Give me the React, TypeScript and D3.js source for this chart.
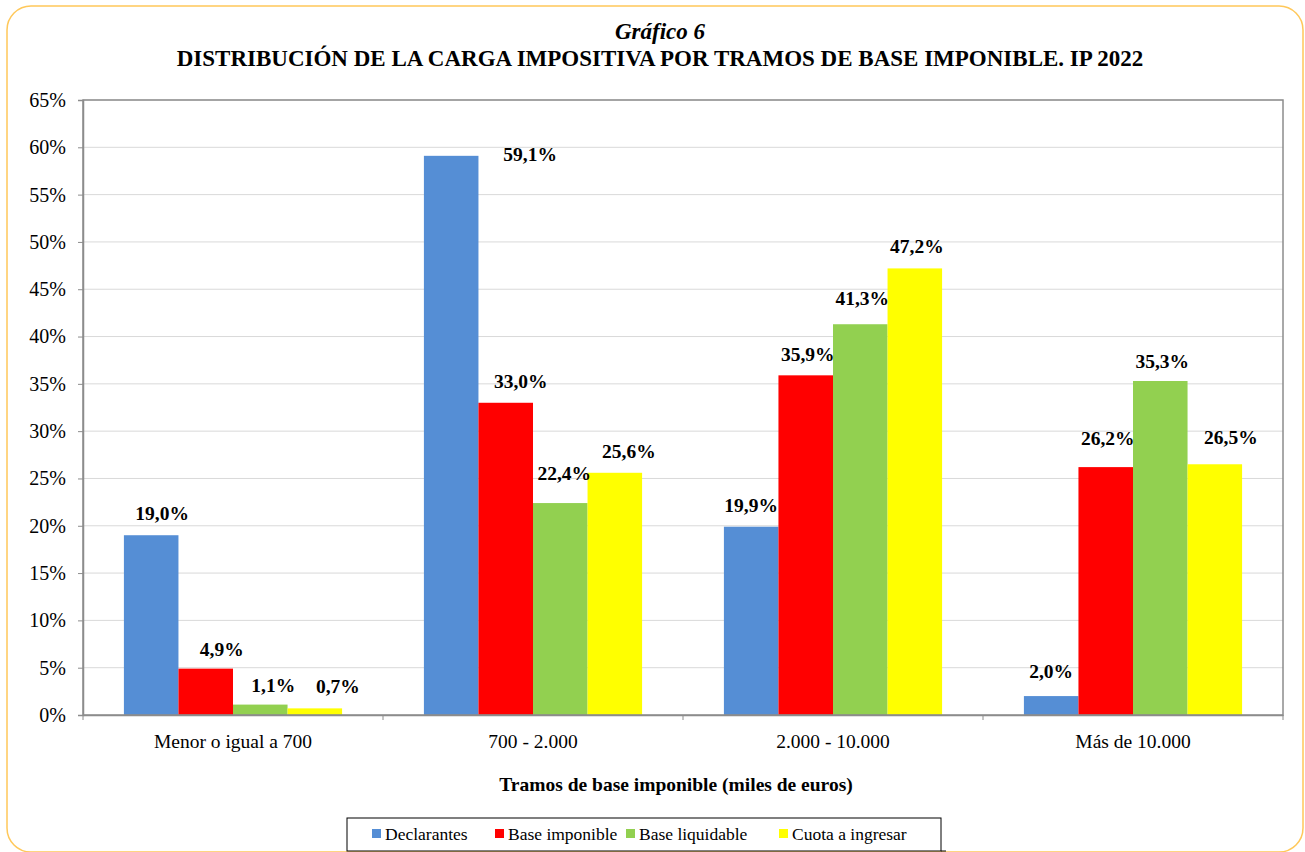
import React, { useEffect, useRef } from "react";
import * as d3 from "d3";

const categories = ["Menor o igual a 700", "700 - 2.000", "2.000 - 10.000", "Más de 10.000"];
const seriesNames = ["Declarantes", "Base imponible", "Base liquidable", "Cuota a ingresar"];
const declarantes = [19.0, 59.1, 19.9, 2.0];
const baseImponible = [4.9, 33.0, 35.9, 26.2];
const baseLiquidable = [1.1, 22.4, 41.3, 35.3];
const cuotaIngresar = [0.7, 25.6, 47.2, 26.5];
const colors = ["#558ED5", "#FF0000", "#92D050", "#FFFF00"];
const yTicks = [0, 5, 10, 15, 20, 25, 30, 35, 40, 45, 50, 55, 60, 65];

// manual label nudges [dx, dy] per series / category (Excel placed some labels oddly)
const labelNudge: [number, number][][] = [
    [[11, 0], [79, 20], [0, 0], [0, -3]],
    [[16, 2], [15, 0], [2, 1], [2, -7]],
    [[13, 2], [4, -8], [2, -4], [2, 2]],
    [[23, 0], [14, 0], [2, 0], [16, -5]],
];

const W = 1305;
const H = 852;
const margin = { left: 83, right: 20, top: 100, bottom: 137 };
const FONT = "'Liberation Serif', 'Times New Roman', serif";

const App = () => {
    const ref = useRef<SVGSVGElement>(null);

    useEffect(() => {
        if (!ref.current) return;
        const svg = d3.select(ref.current);
        svg.selectAll("*").remove();

        const series = [declarantes, baseImponible, baseLiquidable, cuotaIngresar];
        const x0 = margin.left;
        const x1 = W - margin.right - 2;
        const yBottom = H - margin.bottom;

        // outer rounded frame
        svg.append("rect")
            .attr("x", 7).attr("y", 6)
            .attr("width", 1296).attr("height", 846)
            .attr("rx", 24)
            .attr("fill", "white")
            .attr("stroke", "#FFC85A")
            .attr("stroke-width", 1.5);

        svg.append("text")
            .attr("x", 660).attr("y", 39)
            .attr("text-anchor", "middle")
            .attr("font-family", FONT)
            .attr("font-size", 23)
            .attr("font-weight", "bold")
            .attr("font-style", "italic")
            .text("Gráfico 6");

        svg.append("text")
            .attr("x", 660).attr("y", 66)
            .attr("text-anchor", "middle")
            .attr("font-family", FONT)
            .attr("font-size", 23)
            .attr("font-weight", "bold")
            .text("DISTRIBUCIÓN DE LA CARGA IMPOSITIVA POR TRAMOS DE BASE IMPONIBLE. IP 2022");

        const xScale = d3.scaleBand<string>()
            .domain(categories)
            .range([x0, x1])
            .paddingInner(0)
            .paddingOuter(0);

        const xSub = d3.scaleBand<string>()
            .domain(seriesNames)
            .range([0, xScale.bandwidth()])
            .paddingOuter(0.75)
            .paddingInner(0);

        const yScale = d3.scaleLinear()
            .domain([0, 65])
            .range([yBottom, margin.top]);

        // gridlines
        svg.append("g")
            .selectAll("line")
            .data(yTicks.slice(1))
            .enter()
            .append("line")
            .attr("x1", x0).attr("x2", x1)
            .attr("y1", (d) => yScale(d)).attr("y2", (d) => yScale(d))
            .attr("stroke", "#D9D9D9")
            .attr("stroke-width", 1);

        // bars
        series.forEach((vals, si) => {
            svg.append("g")
                .selectAll("rect")
                .data(vals)
                .enter()
                .append("rect")
                .attr("x", (_, i) => xScale(categories[i])! + xSub(seriesNames[si])!)
                .attr("y", (d) => yScale(d))
                .attr("width", xSub.bandwidth())
                .attr("height", (d) => yBottom - yScale(d))
                .attr("fill", colors[si]);
        });

        // plot frame (right/top)
        svg.append("rect")
            .attr("x", x0).attr("y", margin.top)
            .attr("width", x1 - x0).attr("height", yBottom - margin.top)
            .attr("fill", "none")
            .attr("stroke", "#8C8C8C")
            .attr("stroke-width", 1.5);

        // y axis
        const yAxis = d3.axisLeft(yScale)
            .tickValues(yTicks)
            .tickSize(5)
            .tickPadding(12)
            .tickFormat((d) => `${d}%`);
        const gy = svg.append("g")
            .attr("transform", `translate(${x0},0)`)
            .call(yAxis);
        gy.select(".domain").attr("stroke", "#8C8C8C").attr("stroke-width", 1.5);
        gy.selectAll(".tick line").attr("stroke", "#8C8C8C");
        gy.selectAll("text")
            .attr("font-family", FONT)
            .attr("font-size", 20)
            .attr("fill", "#000");

        // x axis
        const xAxis = d3.axisBottom(xScale).tickSize(0).tickPadding(19);
        const gx = svg.append("g")
            .attr("transform", `translate(0,${yBottom})`)
            .call(xAxis);
        gx.select(".domain").attr("stroke", "#8C8C8C").attr("stroke-width", 1.5);
        gx.selectAll("text")
            .attr("font-family", FONT)
            .attr("font-size", 19.5)
            .attr("fill", "#000");
        // boundary ticks between categories
        gx.selectAll("line.sep")
            .data(d3.range(categories.length + 1))
            .enter()
            .append("line")
            .attr("class", "sep")
            .attr("x1", (i) => x0 + i * xScale.bandwidth())
            .attr("x2", (i) => x0 + i * xScale.bandwidth())
            .attr("y1", 0).attr("y2", 5)
            .attr("stroke", "#8C8C8C");

        // data labels
        series.forEach((vals, si) => {
            svg.append("g")
                .selectAll("text")
                .data(vals)
                .enter()
                .append("text")
                .attr("x", (_, i) => xScale(categories[i])! + xSub(seriesNames[si])! + xSub.bandwidth() / 2 + labelNudge[si][i][0])
                .attr("y", (d, i) => yScale(d) - 15 + labelNudge[si][i][1])
                .attr("text-anchor", "middle")
                .attr("font-family", FONT)
                .attr("font-size", 19.5)
                .attr("font-weight", "bold")
                .text((d) => `${d.toFixed(1).replace(".", ",")}%`);
        });

        // axis title
        svg.append("text")
            .attr("x", 676).attr("y", 791)
            .attr("text-anchor", "middle")
            .attr("font-family", FONT)
            .attr("font-size", 19.5)
            .attr("font-weight", "bold")
            .text("Tramos de base imponible (miles de euros)");

        // legend
        const lg = svg.append("g");
        lg.append("rect")
            .attr("x", 347).attr("y", 818)
            .attr("width", 594).attr("height", 33)
            .attr("fill", "white")
            .attr("stroke", "#000")
            .attr("stroke-width", 1);
        lg.append("line")
            .attr("x1", 941).attr("x2", 946)
            .attr("y1", 851).attr("y2", 851)
            .attr("stroke", "#000");
        const legendX = [372, 495, 626, 779];
        seriesNames.forEach((name, i) => {
            lg.append("rect")
                .attr("x", legendX[i]).attr("y", 829)
                .attr("width", 9).attr("height", 9)
                .attr("fill", colors[i]);
            lg.append("text")
                .attr("x", legendX[i] + 13).attr("y", 840)
                .attr("font-family", FONT)
                .attr("font-size", 17.5)
                .text(name);
        });
    }, []);

    return (
        <svg
            ref={ref}
            width={W}
            height={H}
            style={{ position: "absolute", left: 0, top: 0 }}
        />
    );
};

export default App;
